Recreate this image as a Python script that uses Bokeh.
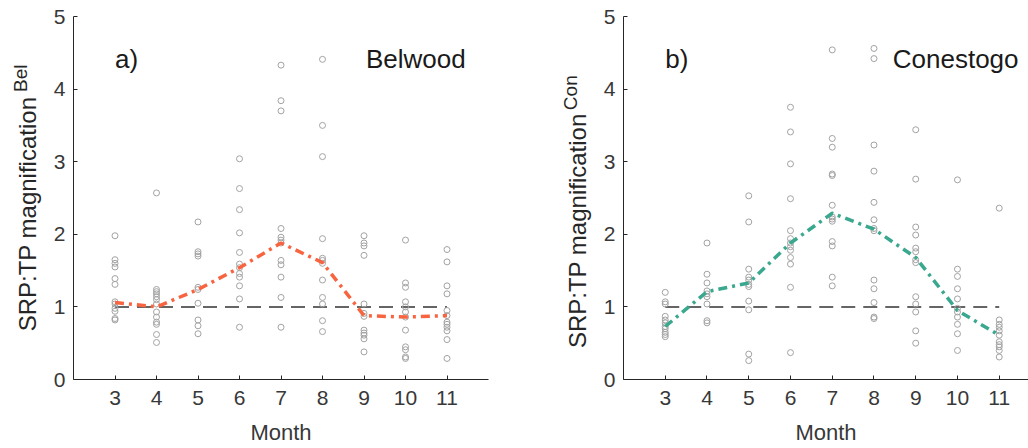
from bokeh.plotting import figure
from bokeh.layouts import row
from bokeh.models import Label, FixedTicker, Range1d
from bokeh.embed import file_html
from bokeh.resources import INLINE

months = [3, 4, 5, 6, 7, 8, 9, 10, 11]
month_ticks = [3, 4, 5, 6, 7, 8, 9, 10, 11]
y_ticks = [0, 1, 2, 3, 4, 5]

# Belwood: monthly SRP:TP magnification samples
bel_points = [
    [1.98, 1.65, 1.60, 1.55, 1.39, 1.31, 1.07, 1.04, 0.98, 0.94, 0.84, 0.82],
    [2.57, 1.24, 1.21, 1.18, 1.14, 1.10, 1.04, 0.93, 0.86, 0.79, 0.76, 0.62, 0.51],
    [2.17, 1.76, 1.73, 1.70, 1.27, 1.24, 1.05, 0.82, 0.74, 0.63],
    [3.04, 2.63, 2.34, 2.02, 1.75, 1.59, 1.54, 1.46, 1.41, 1.29, 1.11, 0.72],
    [4.33, 3.84, 3.70, 2.08, 1.96, 1.92, 1.88, 1.64, 1.58, 1.41, 1.13, 0.72],
    [4.41, 3.50, 3.07, 1.94, 1.67, 1.64, 1.60, 1.37, 1.13, 1.04, 0.81, 0.66],
    [1.98, 1.88, 1.84, 1.71, 1.04, 0.91, 0.87, 0.68, 0.64, 0.61, 0.56, 0.38],
    [1.92, 1.33, 1.27, 1.07, 1.00, 0.93, 0.86, 0.68, 0.45, 0.41, 0.31, 0.29],
    [1.79, 1.62, 1.29, 1.18, 0.95, 0.88, 0.79, 0.76, 0.72, 0.67, 0.55, 0.29],
]
bel_mean = [1.06, 1.00, 1.24, 1.54, 1.88, 1.61, 0.88, 0.86, 0.88]

# Conestogo: monthly SRP:TP magnification samples
con_points = [
    [1.20, 1.07, 1.04, 0.87, 0.82, 0.78, 0.73, 0.70, 0.65, 0.62, 0.59],
    [1.88, 1.45, 1.33, 1.22, 1.18, 1.14, 1.04, 0.81, 0.78],
    [2.53, 2.17, 1.52, 1.41, 1.37, 1.31, 1.28, 1.08, 0.96, 0.35, 0.26],
    [3.75, 3.41, 2.97, 2.49, 2.05, 1.94, 1.88, 1.83, 1.78, 1.68, 1.59, 1.27, 0.37],
    [4.54, 3.32, 3.20, 2.83, 2.81, 2.40, 2.24, 2.21, 2.18, 1.90, 1.84, 1.41, 1.29],
    [4.56, 4.42, 3.23, 2.87, 2.44, 2.20, 2.08, 2.05, 1.37, 1.25, 1.06, 0.86, 0.84],
    [3.44, 2.76, 2.10, 1.99, 1.81, 1.76, 1.65, 1.61, 1.14, 1.04, 0.93, 0.67, 0.50],
    [2.75, 1.52, 1.42, 1.25, 1.11, 0.98, 0.93, 0.86, 0.76, 0.63, 0.40],
    [2.36, 0.82, 0.76, 0.72, 0.67, 0.61, 0.52, 0.48, 0.45, 0.40, 0.31],
]
con_mean = [0.73, 1.21, 1.33, 1.88, 2.29, 2.07, 1.68, 0.95, 0.61]

reference_level = 1.0

FONT = "Liberation Sans"
TXT = "#262626"
H = 448
FRAME_TOP = 16
BOTTOM = 69


def make_panel(points, mean, color, tag, site, width, x_end, right_border,
               site_x, site_align):
    p = figure(width=width, height=H, x_range=Range1d(2, x_end), y_range=Range1d(0, 5),
               output_backend="svg", toolbar_location=None,
               min_border_left=22, min_border_right=right_border,
               min_border_top=FRAME_TOP, min_border_bottom=BOTTOM)
    p.outline_line_color = None
    p.xgrid.visible = False
    p.ygrid.visible = False
    p.background_fill_color = "white"
    p.border_fill_color = "white"
    for ax in (p.xaxis[0], p.yaxis[0]):
        ax.axis_line_color = TXT
        ax.axis_line_width = 1
        ax.major_tick_line_color = TXT
        ax.major_tick_in = 4
        ax.major_tick_out = 0
        ax.minor_tick_line_color = None
        ax.major_label_text_font = FONT
        ax.major_label_text_font_size = "21px"
        ax.major_label_text_color = "#383838"
    p.xaxis.ticker = FixedTicker(ticks=month_ticks)
    p.yaxis.ticker = FixedTicker(ticks=y_ticks)
    p.xaxis.major_label_standoff = 11
    p.yaxis.major_label_standoff = 8
    p.xaxis.axis_label = "Month"
    p.xaxis.axis_label_text_font = FONT
    p.xaxis.axis_label_text_font_size = "22px"
    p.xaxis.axis_label_text_font_style = "normal"
    p.xaxis.axis_label_text_color = "#383838"
    p.xaxis.axis_label_standoff = 12

    # reference line at 1
    p.line([months[0], months[-1]], [reference_level, reference_level],
           line_color="#333333", line_width=1.5, line_dash="14 8")

    xs, ys = [], []
    for m, vals in zip(months, points):
        xs += [m] * len(vals)
        ys += vals
    p.scatter(xs, ys, marker="circle", size=6, fill_color=None,
              line_color="#A3A3A3", line_width=1)

    p.line(months, mean, line_color=color, line_width=3.5, line_dash="9 5 3 5")

    p.add_layout(Label(x=3, y=4.41, text=tag, text_font=FONT, text_font_size="26px",
                       text_color="#1a1a1a", text_align="left", text_baseline="middle"))
    p.add_layout(Label(x=site_x, y=4.41, text=site, text_font=FONT, text_font_size="26px",
                       text_color="#1a1a1a", text_align=site_align, text_baseline="middle"))
    return p


def make_ylabel(width, sup, main_x, main_y, sup_x, sup_y):
    # narrow strip holding the rotated y-axis title (with its superscript);
    # same vertical frame and range as the panel next to it
    s = figure(width=width, height=H, x_range=Range1d(0, width), y_range=Range1d(0, 5),
               output_backend="svg", toolbar_location=None,
               x_axis_location=None, y_axis_location=None,
               min_border_left=0, min_border_right=0,
               min_border_top=FRAME_TOP, min_border_bottom=BOTTOM)
    s.outline_line_color = None
    s.xgrid.visible = False
    s.ygrid.visible = False
    s.add_layout(Label(x=main_x, y=main_y, text="SRP:TP magnification", angle=90,
                       angle_units="deg", text_font=FONT, text_font_size="24px",
                       text_color=TXT, text_align="center", text_baseline="middle"))
    s.add_layout(Label(x=sup_x, y=sup_y, text=sup, angle=90, angle_units="deg",
                       text_font=FONT, text_font_size="19px", text_color=TXT,
                       text_align="center", text_baseline="middle"))
    return s


s1 = make_ylabel(50, "Bel", 26.7, 2.28, 20.0, 4.15)
p1 = make_panel(bel_points, bel_mean, "#F8643F", "a)", "Belwood",
                22 + 416 + 70, 12, 70, 11.45, "right")
s2 = make_ylabel(42, "Con", 18.7, 2.05, 12.0, 3.95)
p2 = make_panel(con_points, con_mean, "#3AA88E", "b)", "Conestogo",
                22 + 406, 2 + 406 / 41.85, 0, 8.45, "left")

layout = row(s1, p1, s2, p2, spacing=0)
open("out.html", "w").write(file_html(layout, INLINE))
